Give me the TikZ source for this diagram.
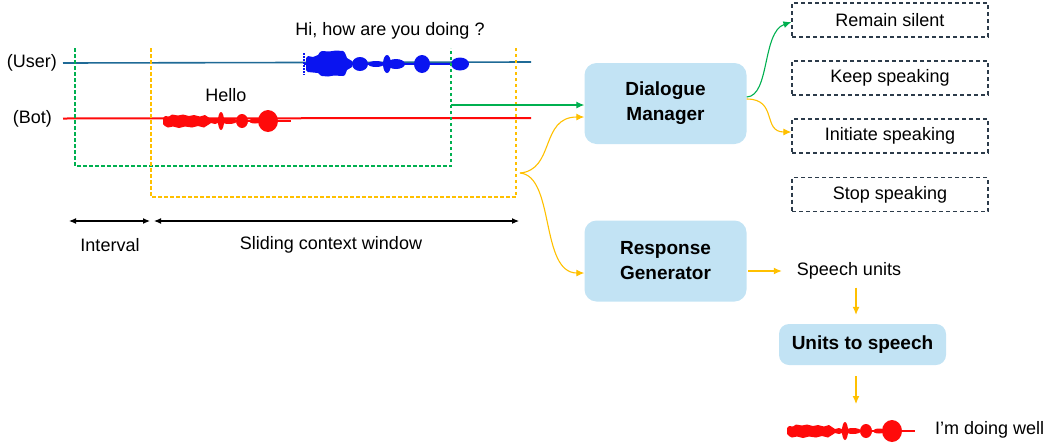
\documentclass[tikz,border=0pt]{standalone}
\usepackage{fontspec}
\setmainfont{Liberation Sans}
\usetikzlibrary{arrows.meta,positioning}
\definecolor{dmuser}{HTML}{1F6A96}
\definecolor{dmwave}{HTML}{0A14F0}
\definecolor{dmbot}{HTML}{FF0A0A}
\definecolor{dmgreen}{HTML}{00B050}
\definecolor{dmyellow}{HTML}{FFC000}
\definecolor{dmbox}{HTML}{C2E3F4}
\definecolor{dmdash}{HTML}{2C3B4A}

\tikzset{
  module/.style={fill=dmbox, rounded corners=12pt, align=center,
    font=\fontsize{19}{25}\selectfont\bfseries, minimum width=162pt, minimum height=81pt},
  choice/.style={draw=dmdash, line width=1.2pt, dash pattern=on 4pt off 3pt,
    minimum width=196pt, minimum height=34pt, font=\fontsize{18}{21}\selectfont},
  lbl/.style={font=\fontsize{18}{21}\selectfont, inner sep=0pt},
  garrow/.style={dmgreen, line width=1.1pt, -{Latex[length=8pt,width=7pt]}},
  yarrow/.style={dmyellow, line width=1.1pt, -{Latex[length=8pt,width=7pt]}},
  span/.style={black, line width=1.1pt, {Latex[length=7pt,width=6pt]}-{Latex[length=7pt,width=6pt]}},
  window/.style={line width=1.1pt, dash pattern=on 3.5pt off 2.5pt}
}

% red speech waveform, left end at #2
\newcommand{\botwave}[2]{%
  \begin{scope}[shift={#2}]
    \draw[#1, line width=1.5pt] (0,0) -- (128,0);
    \fill[#1] (0,-3) -- (2,-5) -- (6,-4.5) -- (9,-6.5) -- (15,-5.5) -- (20,-6.5) -- (26,-5) -- (31,-6) -- (37,-4.5)
      -- (42,-6) -- (45,-4) -- (48,-2) -- (52,-3) -- (55,-2) -- (55,2) -- (52,3) -- (48,2) -- (45,4) -- (41,6.5)
      -- (35,5) -- (29,6.5) -- (22,5.5) -- (16,7) -- (10,5.5) -- (5,6.5) -- (2,5) -- (0,3) -- cycle;
    \foreach \cx/\rx/\ry in {58/3/9, 66/8/3, 79/6/7, 92/6/2.5, 105/10/11}
      \fill[#1] (\cx,0) ellipse ({\rx} and {\ry});
  \end{scope}}

\begin{document}
\begin{tikzpicture}[x=1pt, y=-1pt]
  \useasboundingbox (0,0) rectangle (1044,445);

  % Timelines
  \node[lbl, anchor=east] (user) at (57,63) {(User)};
  \node[lbl, anchor=east] (bot) at (52,119) {(Bot)};
  \draw[dmuser, line width=1.6pt] (63,63) -- (531,62);
  \draw[dmbot, line width=2pt] (63,118.5) -- (531,118);

  % User speech
  \begin{scope}[shift={(304,64)}]
    \draw[dmwave, line width=1.6pt, dash pattern=on 1.5pt off 1.5pt] (0,-11) -- (0,11);
    \draw[dmwave, line width=1.2pt] (0,0) -- (165,0);
    \fill[dmwave] (2,-6) -- (4,-8) -- (9,-7) -- (14,-9) -- (16,-12) -- (18,-13) -- (25,-12.5) -- (32,-13.5) -- (39,-13)
      -- (41,-11) -- (43,-6) -- (48,-3) -- (48,3) -- (43,6) -- (41,11) -- (39,12) -- (30,11.5) -- (24,12.5) -- (18,12)
      -- (16,11) -- (14,9) -- (9,8.5) -- (4,8) -- (2,6) -- cycle;
    \foreach \cx/\rx/\ry in {56/8/7, 72/8/3, 83/4/9, 92/9/5, 118/8/9, 156/9/6.5}
      \fill[dmwave] (\cx,0) ellipse ({\rx} and {\ry});
  \end{scope}
  \node[lbl] (usertext) at (390,31) {Hi, how are you doing ?};

  % Bot speech
  \botwave{dmbot}{(163,121)}
  \node[lbl] (bottext) at (226,95) {Hello};

  % Windows
  \draw[window, dmgreen] (75,48) -- (75,166) -- (451,166) -- (451,48);
  \draw[window, dmyellow] (151,48) -- (151,197) -- (516,197) -- (516,48);
  \coordinate (gwin) at (451,105);
  \coordinate (fork) at (520,173);

  % Interval and window widths
  \coordinate (ia) at (69,221);
  \coordinate (ib) at (150,221);
  \coordinate (wa) at (154,221);
  \coordinate (wb) at (519,221);
  \draw[span] (ia) -- (ib);
  \draw[span] (wa) -- (wb);
  \node[lbl] (interval) at (110,245) {Interval};
  \node[lbl] (sliding) at (331,245) {Sliding context window};

  % Modules
  \node[module] (dm) at (665.5,103.5) {Dialogue\\Manager};
  \node[module] (rg) at (665.5,261) {Response\\Generator};
  \node[module, rounded corners=10pt, minimum width=167pt, minimum height=41pt] (uts) at (862.5,344.5) {Units to speech};

  % Actions
  \node[choice] (silent) at (890,20) {Remain silent};
  \node[choice] (keep) at (890,78) {Keep speaking};
  \node[choice] (initiate) at (890,136) {Initiate speaking};
  \node[choice] (stop) at (890,194.5) {Stop speaking};

  % Inputs to modules
  \draw[garrow] (gwin) -- (gwin -| dm.west);
  \draw[yarrow] (fork) .. controls (555,170) and (540,117) .. ([yshift=-13.5pt]dm.west);
  \draw[yarrow] (fork) .. controls (555,176) and (540,273) .. ([yshift=-12pt]rg.west);

  % Decisions
  \draw[garrow] ([yshift=6.5pt]dm.east) .. controls (770,96) and (762,32) .. ([yshift=-2pt]silent.west);
  \draw[yarrow] ([yshift=4.5pt]dm.east) .. controls (778,99) and (762,132) .. ([yshift=4pt]initiate.west);

  % Speech output
  \node[lbl] (speech) at (849,271) {Speech units};
  \draw[yarrow] ([xshift=1.5pt]rg.east |- speech.west) -- ([xshift=-15pt]speech.west);
  \draw[yarrow] ([xshift=7pt,yshift=-8pt]speech.south) -- ([xshift=-6.5pt,yshift=9pt]uts.north);
  \coordinate (wavein) at (856,404);
  \draw[yarrow] ([xshift=-6.5pt,yshift=-11pt]uts.south) -- (wavein);
  \botwave{dmbot}{(787,431)}
  \node[lbl, anchor=west] (reply) at (935,430) {I'm doing well};
\end{tikzpicture}
\end{document}
